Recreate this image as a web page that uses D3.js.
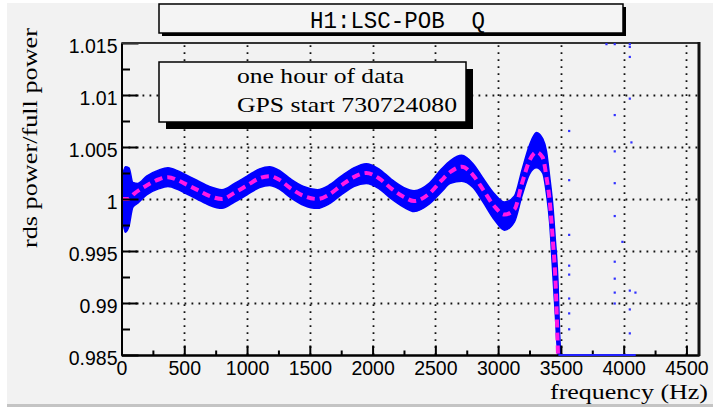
<!DOCTYPE html>
<html>
<head>
<meta charset="utf-8">
<script src="https://cdn.jsdelivr.net/npm/d3@7"></script>
<style>
  html, body { margin: 0; padding: 0; background: #ffffff; }
  svg { display: block; }
</style>
</head>
<body>
<svg id="chart" width="713" height="409"></svg>
<script>
// Axis ticks
const xTickValues = [0, 500, 1000, 1500, 2000, 2500, 3000, 3500, 4000, 4500];
const xMinorValues = [250, 750, 1250, 1750, 2250, 2750, 3250, 3750, 4250];
const yTickValues = [0.985, 0.99, 0.995, 1, 1.005, 1.01, 1.015];
const yTickLabels = ["0.985", "0.99", "0.995", "1", "1.005", "1.01", "1.015"];
const yMinorValues = [0.9875, 0.9925, 0.9975, 1.0025, 1.0075, 1.0125];

// Measured spread of the one-hour data (upper / lower envelope per frequency)
const bandFreq  = [0, 30, 60, 90, 130, 200, 300, 370, 450, 500, 600, 700, 800, 900, 1000, 1100, 1180, 1250, 1350, 1450, 1560, 1650, 1750, 1850, 1950, 2050, 2150, 2250, 2330, 2450, 2550, 2620, 2710, 2800, 2880, 2970, 3050, 3130, 3190, 3250, 3305, 3355, 3385, 3410, 3437, 3455, 3477, 3490, 3500];
const bandUpper = [1.0016, 1.0031, 1.0030, 1.0016, 1.0015, 1.0022, 1.0028, 1.0030, 1.0027, 1.0024, 1.0018, 1.0012, 1.0009, 1.0015, 1.0022, 1.0029, 1.0031, 1.0028, 1.0019, 1.0012, 1.0009, 1.0013, 1.0022, 1.0030, 1.0034, 1.0029, 1.0019, 1.0011, 1.0008, 1.0015, 1.0029, 1.0037, 1.0042, 1.0034, 1.0020, 1.0005, 0.9997, 1.0003, 1.0028, 1.0052, 1.0064, 1.0058, 1.0046, 1.0022, 0.9992, 0.9962, 0.9920, 0.9870, 0.9850];
const bandLower = [0.9988, 0.9968, 0.9974, 0.9992, 0.9996, 1.0004, 1.0010, 1.0012, 1.0009, 1.0006, 1.0000, 0.9994, 0.9991, 0.9997, 1.0004, 1.0011, 1.0013, 1.0010, 1.0001, 0.9994, 0.9991, 0.9995, 1.0004, 1.0012, 1.0015, 1.0010, 1.0000, 0.9992, 0.9988, 0.9995, 1.0007, 1.0015, 1.0017, 1.0011, 0.9997, 0.9980, 0.9970, 0.9978, 1.0003, 1.0024, 1.0030, 1.0025, 1.0005, 0.9978, 0.9925, 0.9890, 0.9850, 0.9850, 0.9850];

// Smooth fit through the data (dashed curve)
const fitFreq  = [0, 50, 100, 200, 300, 370, 450, 500, 600, 700, 800, 900, 1000, 1100, 1180, 1250, 1350, 1450, 1560, 1650, 1750, 1850, 1950, 2050, 2150, 2250, 2330, 2450, 2550, 2620, 2710, 2800, 2880, 2970, 3050, 3130, 3190, 3250, 3305, 3355, 3385, 3410, 3437, 3455, 3477];
const fitValue = [1.0000, 1.0000, 1.0005, 1.0013, 1.0019, 1.0021, 1.0018, 1.0015, 1.0009, 1.0003, 1.0000, 1.0006, 1.0013, 1.0020, 1.0022, 1.0019, 1.0010, 1.0003, 1.0000, 1.0004, 1.0013, 1.0021, 1.0025, 1.0020, 1.0010, 1.0002, 0.9998, 1.0005, 1.0018, 1.0026, 1.0031, 1.0023, 1.0009, 0.9993, 0.9985, 0.9990, 1.0015, 1.0037, 1.0045, 1.0040, 1.0021, 0.9999, 0.9958, 0.9926, 0.9850];

// Stray points above the cutoff
const strayFreq  = [3565, 3565, 3565, 3565, 3565, 3565, 3565, 3565, 3862, 3928, 3928, 3928, 3928, 3928, 3928, 3928, 3928, 3928, 3989, 4048, 4048, 4048, 4048, 4048, 4048, 4048, 4061, 4093];
const strayValue = [0.99656, 0.99360, 0.99274, 0.99044, 0.98901, 0.98748, 1.00655, 1.00182, 1.0149, 0.99837, 0.99398, 0.99235, 0.99101, 0.98996, 1.00808, 1.00459, 1.00153, 1.0149, 0.99589, 0.99120, 0.98939, 0.98709, 1.00966, 1.01367, 1.01463, 1.0149, 1.00545, 0.99101];

// Stop band: values fall below the plotted range from here to Nyquist
const stopbandFreq = [3480, 4096];

const svg = d3.select("#chart");
const W = 713, H = 409;
const plot = { left: 121.5, right: 699, top: 43, bottom: 355 };

const x = d3.scaleLinear().domain([0, 4600]).range([plot.left, plot.right]);
const y = d3.scaleLinear().domain([0.985, 1.015]).range([plot.bottom, plot.top]);

// canvas
svg.append("rect").attr("x", 7).attr("y", 3).attr("width", W - 7).attr("height", 402).attr("fill", "#f2f2f2");
svg.append("rect").attr("x", 7).attr("y", 404).attr("width", W - 7).attr("height", 3).attr("fill", "#c4c4c4");

svg.append("defs").append("clipPath").attr("id", "plotClip")
  .append("rect").attr("x", plot.left).attr("y", plot.top)
  .attr("width", plot.right - plot.left).attr("height", plot.bottom - plot.top);

// dotted grid
const grid = svg.append("g").attr("stroke", "#111").attr("stroke-width", 1.8)
  .attr("stroke-dasharray", "1.8 5.2").attr("fill", "none");
grid.selectAll("line.v").data(xTickValues.filter(d => d > 0)).join("line")
  .attr("x1", d => Math.round(x(d)) + 0.5).attr("x2", d => Math.round(x(d)) + 0.5)
  .attr("y1", plot.bottom).attr("y2", plot.top + 2);
grid.selectAll("line.h").data(yTickValues.filter(d => d > 0.985 && d < 1.015)).join("line")
  .attr("x1", plot.left).attr("x2", plot.right)
  .attr("y1", d => Math.round(y(d)) + 0.5).attr("y2", d => Math.round(y(d)) + 0.5);

// data band
const bandData = bandFreq.map((f, i) => ({ f, hi: bandUpper[i], lo: bandLower[i] }));
const band = d3.area().x(d => x(d.f)).y0(d => y(d.lo)).y1(d => y(d.hi)).curve(d3.curveMonotoneX);
const dataLayer = svg.append("g").attr("clip-path", "url(#plotClip)");
dataLayer.append("path").datum(bandData).attr("d", band)
  .attr("fill", "#0000ff").attr("stroke", "#0000ff").attr("stroke-width", 1.5);

// fit
const fitData = fitFreq.map((f, i) => ({ f, v: fitValue[i] }));
const fitLine = d3.line().x(d => x(d.f)).y(d => y(d.v)).curve(d3.curveMonotoneX);
dataLayer.append("path").datum(fitData).attr("d", fitLine)
  .attr("fill", "none").attr("stroke", "#ff19e6").attr("stroke-width", 4)
  .attr("stroke-dasharray", "8 5");

// axes (ticks point into the frame)
const xAxis = d3.axisBottom(x).tickValues(xTickValues).tickFormat(d => String(d))
  .tickSizeInner(-9.5).tickSizeOuter(0).tickPadding(6);
const xMinor = d3.axisBottom(x).tickValues(xMinorValues).tickFormat("")
  .tickSizeInner(-4.5).tickSizeOuter(0);
const yAxis = d3.axisLeft(y).tickValues(yTickValues).tickFormat((d, i) => yTickLabels[i])
  .tickSizeInner(-17).tickSizeOuter(0).tickPadding(4);
const yMinor = d3.axisLeft(y).tickValues(yMinorValues).tickFormat("")
  .tickSizeInner(-8.5).tickSizeOuter(0);

function styleAxis(g) {
  g.select(".domain").attr("stroke", "#000").attr("stroke-width", 2);
  g.selectAll(".tick line").attr("stroke", "#000").attr("stroke-width", 2);
  g.selectAll("text").attr("fill", "#000")
    .style("font-family", "'Liberation Sans', Arial, sans-serif").style("font-size", "19.5px");
}
svg.append("g").attr("transform", `translate(0,${plot.bottom})`).call(xMinor).call(styleAxis);
svg.append("g").attr("transform", `translate(0,${plot.bottom})`).call(xAxis).call(styleAxis);
svg.append("g").attr("transform", `translate(${plot.left},0)`).call(yMinor).call(styleAxis);
svg.append("g").attr("transform", `translate(${plot.left},0)`).call(yAxis).call(styleAxis)
  .selectAll("text").attr("dy", "0.5em");

// frame top and right
svg.append("line").attr("x1", plot.left).attr("x2", plot.right).attr("y1", plot.top).attr("y2", plot.top)
  .attr("stroke", "#333").attr("stroke-width", 2);
svg.append("line").attr("x1", plot.right).attr("x2", plot.right).attr("y1", plot.top - 1).attr("y2", plot.bottom + 1)
  .attr("stroke", "#111").attr("stroke-width", 3);

// stop band on the lower edge
svg.append("line").attr("x1", x(stopbandFreq[0])).attr("x2", x(stopbandFreq[1]))
  .attr("y1", plot.bottom).attr("y2", plot.bottom)
  .attr("stroke", "#2222ff").attr("stroke-width", 2);

// stray points
svg.append("g").selectAll("rect").data(strayFreq.map((f, i) => ({ f, v: strayValue[i] }))).join("rect")
  .attr("x", d => x(d.f) - 1).attr("y", d => y(d.v) - 1).attr("width", 2.2).attr("height", 2.2)
  .attr("fill", "#3030ff");

// axis titles
svg.append("text").attr("x", 708).attr("y", 399).attr("text-anchor", "end")
  .attr("textLength", 158).attr("lengthAdjust", "spacingAndGlyphs")
  .style("font-family", "'Liberation Serif', 'Times New Roman', serif").style("font-size", "21px")
  .text("frequency (Hz)");
svg.append("text").attr("transform", "translate(37,138) rotate(-90)").attr("text-anchor", "middle")
  .attr("textLength", 220).attr("lengthAdjust", "spacingAndGlyphs")
  .style("font-family", "'Liberation Serif', 'Times New Roman', serif").style("font-size", "21px")
  .text("rds power/full power");

// legend box with shadow
const leg = { x: 159, y: 62, w: 307, h: 60, s: 7 };
svg.append("rect").attr("x", leg.x + leg.s).attr("y", leg.y + leg.s).attr("width", leg.w).attr("height", leg.h).attr("fill", "#000");
svg.append("rect").attr("x", leg.x).attr("y", leg.y).attr("width", leg.w).attr("height", leg.h)
  .attr("fill", "#f4f4f4").attr("stroke", "#000").attr("stroke-width", 1.5);
const legendLines = ["one hour of data", "GPS start 730724080"];
const legendWidths = [167, 220];
svg.append("g").selectAll("text").data(legendLines).join("text")
  .attr("x", 237).attr("y", (d, i) => 83 + i * 29)
  .attr("textLength", (d, i) => legendWidths[i]).attr("lengthAdjust", "spacingAndGlyphs")
  .style("font-family", "'Liberation Serif', 'Times New Roman', serif").style("font-size", "21px")
  .text(d => d);

// title box with shadow
const tb = { x: 159, y: 4, w: 464, h: 29, s: 3 };
svg.append("rect").attr("x", tb.x + tb.s).attr("y", tb.y + tb.s).attr("width", tb.w).attr("height", tb.h).attr("fill", "#000");
svg.append("rect").attr("x", tb.x).attr("y", tb.y).attr("width", tb.w).attr("height", tb.h)
  .attr("fill", "#f4f4f4").attr("stroke", "#000").attr("stroke-width", 1.5);
svg.append("text").attr("x", 397.5).attr("y", 28).attr("text-anchor", "middle")
  .attr("textLength", 175).attr("lengthAdjust", "spacingAndGlyphs")
  .style("font-family", "'Liberation Mono', 'Courier New', monospace").style("font-size", "24px")
  .style("white-space", "pre")
  .text("H1:LSC-POB  Q");
</script>
</body>
</html>
